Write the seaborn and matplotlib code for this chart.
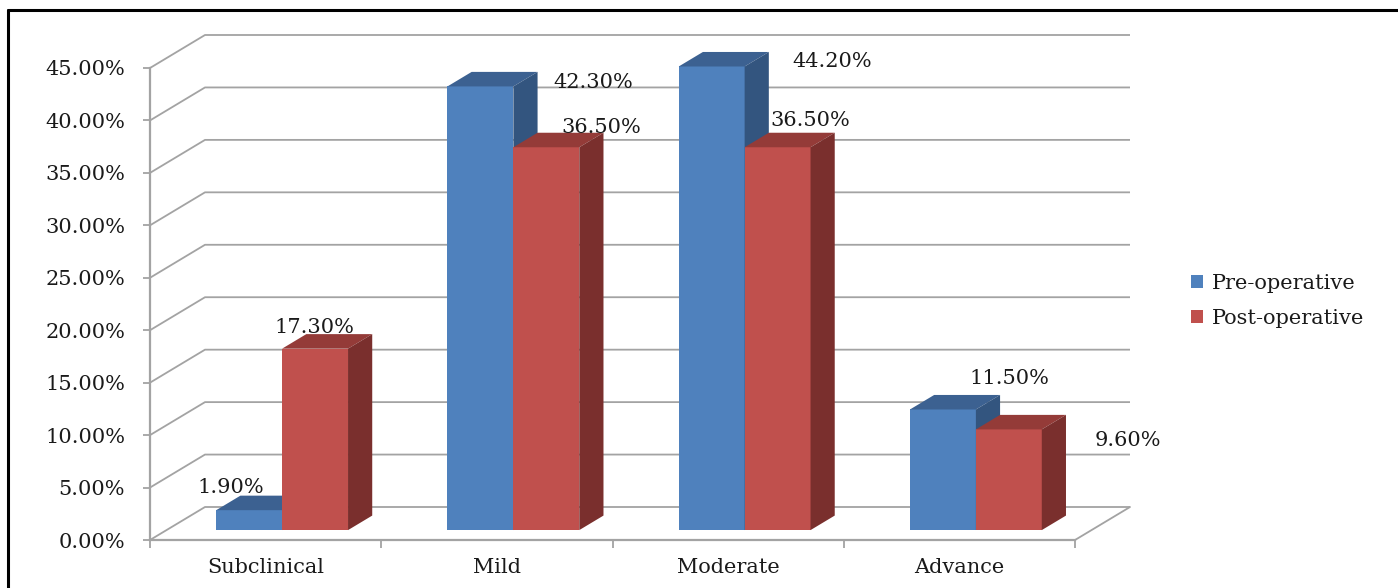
import numpy as np
import pandas as pd
import matplotlib
matplotlib.use("Agg")
import matplotlib.pyplot as plt
from matplotlib.patches import Polygon, Patch
from matplotlib.lines import Line2D
import seaborn as sns

# ---- data ----
grades = ["Subclinical", "Mild", "Moderate", "Advance"]
periods = ["Pre-operative", "Post-operative"]
pre_values = [1.9, 42.3, 44.2, 11.5]
post_values = [17.3, 36.5, 36.5, 9.6]
y_ticks = [0, 5, 10, 15, 20, 25, 30, 35, 40, 45]

# ---- styling ----
front_colors = ["#4f81bd", "#c0504d"]
top_colors = ["#3c6191", "#943b38"]
side_colors = ["#33557f", "#7a2f2d"]
grid_color = "#a3a3a3"
text_color = "#1a1a1a"
font_size = 15
# label shifts (pixels) relative to each bar's top face
label_shift = {
    "Pre-operative": [(-31, 15), (101, -3), (108, -2), (54, 24)],
    "Post-operative": [(-13, 14), (43, 12), (21, 19), (107, -18)],
}

# oblique depth of the floor, in data units (category units / percent units)
DEPTH_X = 0.2378
DEPTH_Y = 3.146
BAR_FRONT = 0.30   # fraction of depth where the bar front sits
BAR_DEPTH = 0.44   # bar thickness as fraction of the depth

df = pd.DataFrame({
    "Grade": grades * 2,
    "Period": [periods[0]] * 4 + [periods[1]] * 4,
    "Percent": pre_values + post_values,
})

sns.set_style("white")
plt.rcParams["font.family"] = ["DejaVu Serif"]

W, H = 1398, 588
fig = plt.figure(figsize=(W / 100, H / 100), dpi=100)
ax = fig.add_axes([150 / W, 48 / H, 980 / W, 505 / H])

sns.barplot(data=df, x="Grade", y="Percent", hue="Period", order=grades,
            hue_order=periods, palette=front_colors, width=0.57, gap=0,
            saturation=1, legend=False, ax=ax, errorbar=None)

ax.set_xlim(-0.5, 3.5 + DEPTH_X)
ax.set_ylim(0, 45 + DEPTH_Y)

# back wall gridlines and their diagonal links to the front axis
x_left, x_right = -0.5, 3.5
for v in y_ticks:
    ax.plot([x_left, x_left + DEPTH_X, x_right + DEPTH_X],
            [v, v + DEPTH_Y, v + DEPTH_Y],
            color=grid_color, lw=1.3, zorder=1, clip_on=False,
            solid_capstyle="butt")
# floor right edge
ax.plot([x_right, x_right + DEPTH_X], [0, DEPTH_Y], color=grid_color,
        lw=1.3, zorder=1, clip_on=False)

# 3D bars: shift front faces back and add top and side faces
fdx, fdy = BAR_FRONT * DEPTH_X, BAR_FRONT * DEPTH_Y
bdx, bdy = BAR_DEPTH * DEPTH_X, BAR_DEPTH * DEPTH_Y
for k, (cont, period) in enumerate(zip(ax.containers, periods)):
    vals = pre_values if k == 0 else post_values
    for i, (bar, val) in enumerate(zip(cont.patches, vals)):
        x0 = bar.get_x() + fdx
        w = bar.get_width()
        x1 = x0 + w
        b = fdy
        t = fdy + val
        bar.set_x(x0)
        bar.set_y(b)
        bar.set_height(val)
        bar.set_edgecolor("none")
        bar.set_zorder(3 + 2 * k)
        top = Polygon([(x0, t), (x1, t), (x1 + bdx, t + bdy), (x0 + bdx, t + bdy)],
                      closed=True, facecolor=top_colors[k], edgecolor="none",
                      zorder=3.5 + 2 * k, clip_on=False)
        side = Polygon([(x1, b), (x1 + bdx, b + bdy), (x1 + bdx, t + bdy), (x1, t)],
                       closed=True, facecolor=side_colors[k], edgecolor="none",
                       zorder=3.5 + 2 * k, clip_on=False)
        ax.add_patch(top)
        ax.add_patch(side)
        dx_px, dy_px = label_shift[period][i]
        ax.annotate(f"{val:.2f}%", xy=(x0 + w / 2 + bdx / 2, t + bdy / 2),
                    xytext=(dx_px, dy_px), textcoords="offset pixels",
                    ha="center", va="center", fontsize=font_size,
                    color=text_color, zorder=10, annotation_clip=False)

# axes, spines and ticks
for s in ["top", "right"]:
    ax.spines[s].set_visible(False)
ax.spines["left"].set_bounds(0, 45)
ax.spines["bottom"].set_bounds(-0.5, 3.5)
for s in ["left", "bottom"]:
    ax.spines[s].set_color(grid_color)
    ax.spines[s].set_linewidth(1.6)
    ax.spines[s].set_zorder(2)

ax.set_yticks(y_ticks)
ax.set_yticklabels([f"{v:.2f}%" for v in y_ticks])
ax.tick_params(axis="y", length=5, width=1.3, color=grid_color, pad=13,
               labelsize=font_size, labelcolor=text_color, left=True)
ax.set_xticks(range(len(grades)))
ax.set_xticklabels(grades)
ax.tick_params(axis="x", which="major", length=0, pad=13, labelsize=font_size,
               labelcolor=text_color)
ax.set_xticks(np.arange(-0.5, len(grades), 1.0), minor=True)
ax.tick_params(axis="x", which="minor", length=6, width=1.3, color=grid_color,
               bottom=True)
ax.set_xlabel("")
ax.set_ylabel("")
ax.grid(False)

# legend
handles = [Patch(facecolor=c, edgecolor="none") for c in front_colors]
fig.legend(handles, periods, loc="center left",
           bbox_to_anchor=(1172 / W, 1 - 301 / H), frameon=False,
           fontsize=font_size, handlelength=0.6, handleheight=0.6,
           handletextpad=0.4, labelspacing=0.75, labelcolor=text_color)

# outer frame (top and left edges)
fig.add_artist(Line2D([8 / W, 8 / W], [0, 1 - 10 / H], color="black", lw=2.2))
fig.add_artist(Line2D([8 / W, 1], [1 - 10 / H, 1 - 10 / H], color="black", lw=2.2))

fig.savefig("out.png", dpi=100)
